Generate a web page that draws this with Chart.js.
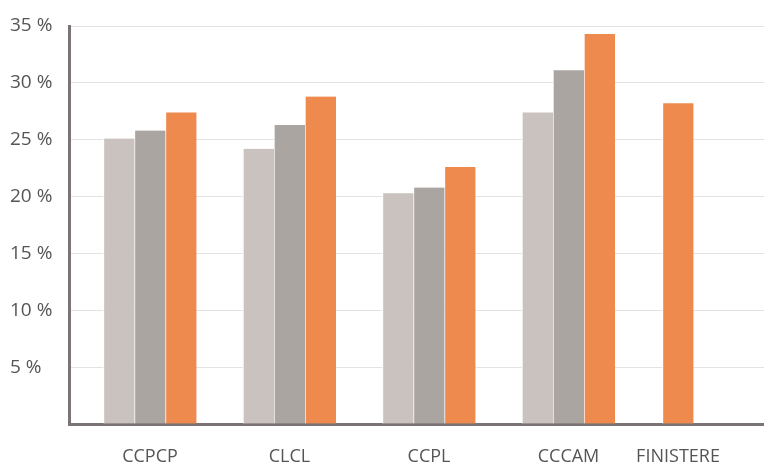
<!DOCTYPE html>
<html>
<head>
<meta charset="utf-8">
<script src="https://cdn.jsdelivr.net/npm/chart.js@4/dist/chart.umd.min.js"></script>
<style>
  html, body { margin: 0; padding: 0; background: #ffffff; }
  #wrap { width: 764px; height: 464px; }
</style>
</head>
<body>
<div id="wrap"><canvas id="chart" width="764" height="464"></canvas></div>
<script>
// Categories along the horizontal axis
const categories = ['CCPCP', 'CLCL', 'CCPL', 'CCCAM', 'FINISTERE'];

// Share (%) for each of the three series; FINISTERE only has the last one
const seriesA = [25.1, 24.2, 20.3, 27.4, null];
const seriesB = [25.8, 26.3, 20.8, 31.1, null];
const seriesC = [27.4, 28.8, 22.6, 34.3, 28.2];

// Value-axis ticks (percent)
const yTicks = [0, 5, 10, 15, 20, 25, 30, 35];

// Where each category sits on the (linear) category axis
const slots = [0, 1, 2, 3, 3.785];

const toPoints = vals => vals.map((v, i) => ({ x: slots[i], y: v }));

const barStyle = {
  barThickness: 31,
  borderWidth: { left: 1, top: 0, right: 0, bottom: 0 },
  borderColor: '#ffffff',
  borderSkipped: false,
  skipNull: true
};

const axisColor = '#7a7574';
const textColor = '#555555';

new Chart(document.getElementById('chart'), {
  type: 'bar',
  data: {
    datasets: [
      Object.assign({ data: toPoints(seriesA), backgroundColor: '#cac2be' }, barStyle),
      Object.assign({ data: toPoints(seriesB), backgroundColor: '#aba5a1' }, barStyle),
      Object.assign({ data: toPoints(seriesC), backgroundColor: '#ee8a4e' }, barStyle)
    ]
  },
  options: {
    responsive: false,
    animation: false,
    layout: { padding: { left: 10, right: 0, top: 26, bottom: 0 } },
    plugins: { legend: { display: false }, tooltip: { enabled: false } },
    scales: {
      x: {
        type: 'linear',
        min: -0.5806,
        max: 4.4014,
        offset: false,
        grid: { display: false, drawTicks: false },
        border: { display: true, color: axisColor, width: 3 },
        afterBuildTicks: scale => { scale.ticks = slots.map(v => ({ value: v })); },
        afterFit: scale => { scale.height = 40; },
        ticks: {
          autoSkip: false,
          maxRotation: 0,
          padding: 22,
          color: textColor,
          font: { family: 'Open Sans', size: 18 },
          callback: value => categories[slots.indexOf(value)]
        }
      },
      y: {
        min: 0,
        max: 35,
        z: 1,
        grid: {
          drawTicks: false,
          color: ctx => (ctx.tick && ctx.tick.value === 0) ? 'rgba(0,0,0,0)' : 'rgba(0,0,0,0.11)',
          lineWidth: 1
        },
        border: { display: true, color: axisColor, width: 3 },
        afterBuildTicks: scale => { scale.ticks = yTicks.map(v => ({ value: v })); },
        afterFit: scale => { scale.width = 59; },
        ticks: {
          crossAlign: 'far',
          color: textColor,
          font: { family: 'Open Sans', size: 19 },
          callback: value => value === 0 ? '' : value + ' %'
        }
      }
    }
  }
});
</script>
</body>
</html>
